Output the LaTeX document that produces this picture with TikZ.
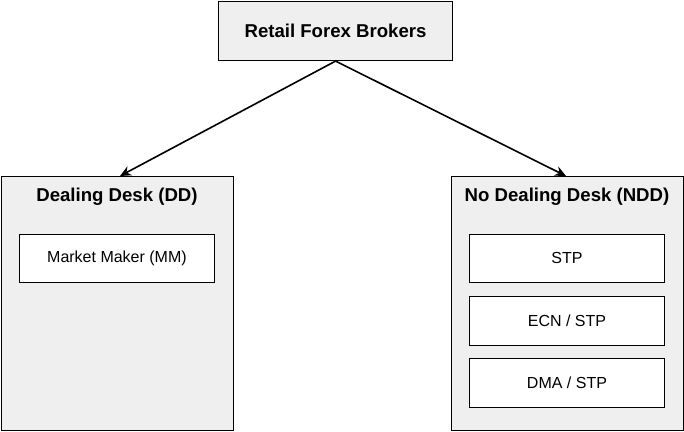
\documentclass[tikz,border=0pt]{standalone}
\usepackage{fontspec}
\setmainfont{Liberation Sans}
\usetikzlibrary{arrows.meta}
\definecolor{boxgray}{HTML}{EFEFEF}
\begin{document}
\begin{tikzpicture}[x=1pt,y=-1pt,
  outer/.style={draw=black,fill=boxgray,line width=1.1pt},
  inner/.style={draw=black,fill=white,line width=0.9pt,font=\fontsize{16}{19}\selectfont},
  ttl/.style={font=\bfseries\fontsize{18.6}{22}\selectfont},
  conn/.style={line width=1.6pt,-{Stealth[length=11pt,width=10pt]}}]
\useasboundingbox (0,0) rectangle (684,431);
% top box
\node[outer,ttl,minimum width=234pt,minimum height=59pt,anchor=north west] (top) at (218,1) {Retail Forex Brokers};
% left group
\node[outer,minimum width=232pt,minimum height=254pt,anchor=north west] (dd) at (1,176) {};
\node[ttl] (ddt) at (117,197) {Dealing Desk (DD)};
\node[inner,minimum width=195pt,minimum height=48pt,anchor=north west] (mm) at (19,234) {Market Maker (MM)};
% right group
\node[outer,minimum width=232pt,minimum height=254pt,anchor=north west] (ndd) at (451,176) {};
\node[ttl] (nddt) at (567,197) {No Dealing Desk (NDD)};
\node[inner,minimum width=195pt,minimum height=48pt,anchor=north west] (stp) at (469,234) {STP};
\node[inner,minimum width=195pt,minimum height=49pt,anchor=north west] (ecn) at (469,296) {ECN / STP};
\node[inner,minimum width=195pt,minimum height=49pt,anchor=north west] (dma) at (469,358) {DMA / STP};
% connectors
\coordinate (ddin) at (120,176);
\coordinate (nddin) at (566,176);
\draw[conn] (top.south) -- (ddin);
\draw[conn] (top.south) -- (nddin);
\end{tikzpicture}
\end{document}
